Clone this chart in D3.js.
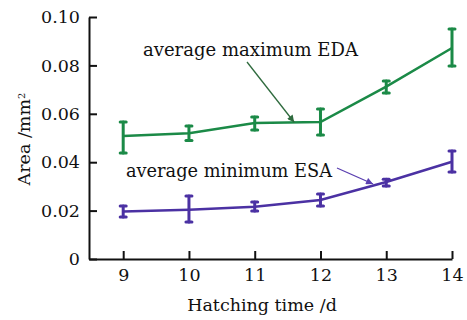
<!DOCTYPE html>
<html lang="en">
<head>
    <meta charset="UTF-8">
    <title>Area vs hatching time</title>
    <style>
        body { margin: 0; background: #fff; }
        svg text { font-family: 'DejaVu Serif', serif; fill: #111; }
        .axis path, .axis line { stroke: #111; stroke-width: 2; fill: none; }
        .axis text { font-size: 17.5px; }
    </style>
</head>
<body>
    <svg id="chart" width="467" height="320"></svg>

    <script src="https://d3js.org/d3.v7.min.js"></script>
    <script>
        // data
        const days = [9, 10, 11, 12, 13, 14];
        const edaMean = [0.0508, 0.0520, 0.0562, 0.0566, 0.0712, 0.0872];
        const edaLow  = [0.0438, 0.0490, 0.0533, 0.0512, 0.0686, 0.0798];
        const edaHigh = [0.0566, 0.0550, 0.0587, 0.0620, 0.0736, 0.0950];
        const esaMean = [0.0196, 0.0204, 0.0216, 0.0244, 0.0318, 0.0402];
        const esaLow  = [0.0174, 0.0153, 0.0198, 0.0219, 0.0302, 0.0360];
        const esaHigh = [0.0219, 0.0260, 0.0236, 0.0269, 0.0330, 0.0446];
        const yTicks = [0, 0.02, 0.04, 0.06, 0.08, 0.10];

        const green = "#1b8a47";
        const purple = "#4b31a3";

        const svg = d3.select("#chart");

        // scales
        const x = d3.scaleLinear().domain([8.48, 14]).range([89, 452]);
        const y = d3.scaleLinear().domain([0, 0.10]).range([259, 17]);

        // axes (ticks point inward)
        svg.append("g")
            .attr("class", "axis")
            .attr("transform", "translate(0,259)")
            .call(d3.axisBottom(x).tickValues(days).tickSize(-8).tickSizeOuter(0).tickPadding(10).tickFormat(d3.format("d")));

        svg.append("g")
            .attr("class", "axis")
            .attr("transform", "translate(89,0)")
            .call(d3.axisLeft(y).tickValues(yTicks).tickSize(-8).tickSizeOuter(0).tickPadding(9)
                .tickFormat(d => d === 0 ? "0" : d3.format(".2f")(d)));

        // axis titles
        svg.append("text")
            .attr("x", 262).attr("y", 311)
            .attr("text-anchor", "middle")
            .style("font-size", "17.5px")
            .text("Hatching time /d");

        const yTitle = svg.append("text")
            .attr("transform", "translate(30,139) rotate(-90)")
            .attr("text-anchor", "middle")
            .style("font-size", "17.5px");
        yTitle.append("tspan").text("Area /mm");
        yTitle.append("tspan").attr("dy", "-0.5em").style("font-size", "10px").text("2");

        // one series: line + error bars
        function drawSeries(mean, low, high, color) {
            const pts = days.map((d, i) => ({ d, m: mean[i], lo: low[i], hi: high[i] }));
            svg.append("path")
                .datum(pts)
                .attr("fill", "none")
                .attr("stroke", color)
                .attr("stroke-width", 2.5)
                .attr("d", d3.line().x(p => x(p.d)).y(p => y(p.m)));

            const g = svg.append("g").attr("stroke", color).attr("stroke-linecap", "round");
            g.selectAll(".bar").data(pts).enter().append("line")
                .attr("x1", p => x(p.d)).attr("x2", p => x(p.d))
                .attr("y1", p => y(p.lo)).attr("y2", p => y(p.hi))
                .attr("stroke-width", 3);
            g.selectAll(".capTop").data(pts).enter().append("line")
                .attr("x1", p => x(p.d) - 3).attr("x2", p => x(p.d) + 3)
                .attr("y1", p => y(p.hi)).attr("y2", p => y(p.hi))
                .attr("stroke-width", 3);
            g.selectAll(".capBot").data(pts).enter().append("line")
                .attr("x1", p => x(p.d) - 3).attr("x2", p => x(p.d) + 3)
                .attr("y1", p => y(p.lo)).attr("y2", p => y(p.lo))
                .attr("stroke-width", 3);
        }

        drawSeries(edaMean, edaLow, edaHigh, green);
        drawSeries(esaMean, esaLow, esaHigh, purple);

        // arrow markers
        const defs = svg.append("defs");
        [["arrowG", "#2f6b3e"], ["arrowP", "#5a3fb0"]].forEach(([id, c]) => {
            defs.append("marker")
                .attr("id", id)
                .attr("viewBox", "0 0 10 10")
                .attr("refX", 10).attr("refY", 5)
                .attr("markerWidth", 9).attr("markerHeight", 7)
                .attr("markerUnits", "userSpaceOnUse")
                .attr("orient", "auto")
                .append("path")
                .attr("d", "M0,0 L10,5 L0,10 Z")
                .attr("fill", c);
        });

        // annotations
        svg.append("text")
            .attr("x", 143).attr("y", 56)
            .style("font-size", "18px")
            .attr("textLength", 215)
            .attr("lengthAdjust", "spacingAndGlyphs")
            .text("average maximum EDA");
        svg.append("line")
            .attr("x1", 247).attr("y1", 62)
            .attr("x2", x(11.6)).attr("y2", y(0.0565))
            .attr("stroke", "#2f6b3e").attr("stroke-width", 1.3)
            .attr("marker-end", "url(#arrowG)");

        svg.append("text")
            .attr("x", 126).attr("y", 177)
            .style("font-size", "18px")
            .attr("textLength", 206)
            .attr("lengthAdjust", "spacingAndGlyphs")
            .text("average minimum ESA");
        svg.append("line")
            .attr("x1", 337).attr("y1", 168)
            .attr("x2", x(12.8)).attr("y2", y(0.031))
            .attr("stroke", "#5a3fb0").attr("stroke-width", 1.3)
            .attr("marker-end", "url(#arrowP)");
    </script>
</body>
</html>
